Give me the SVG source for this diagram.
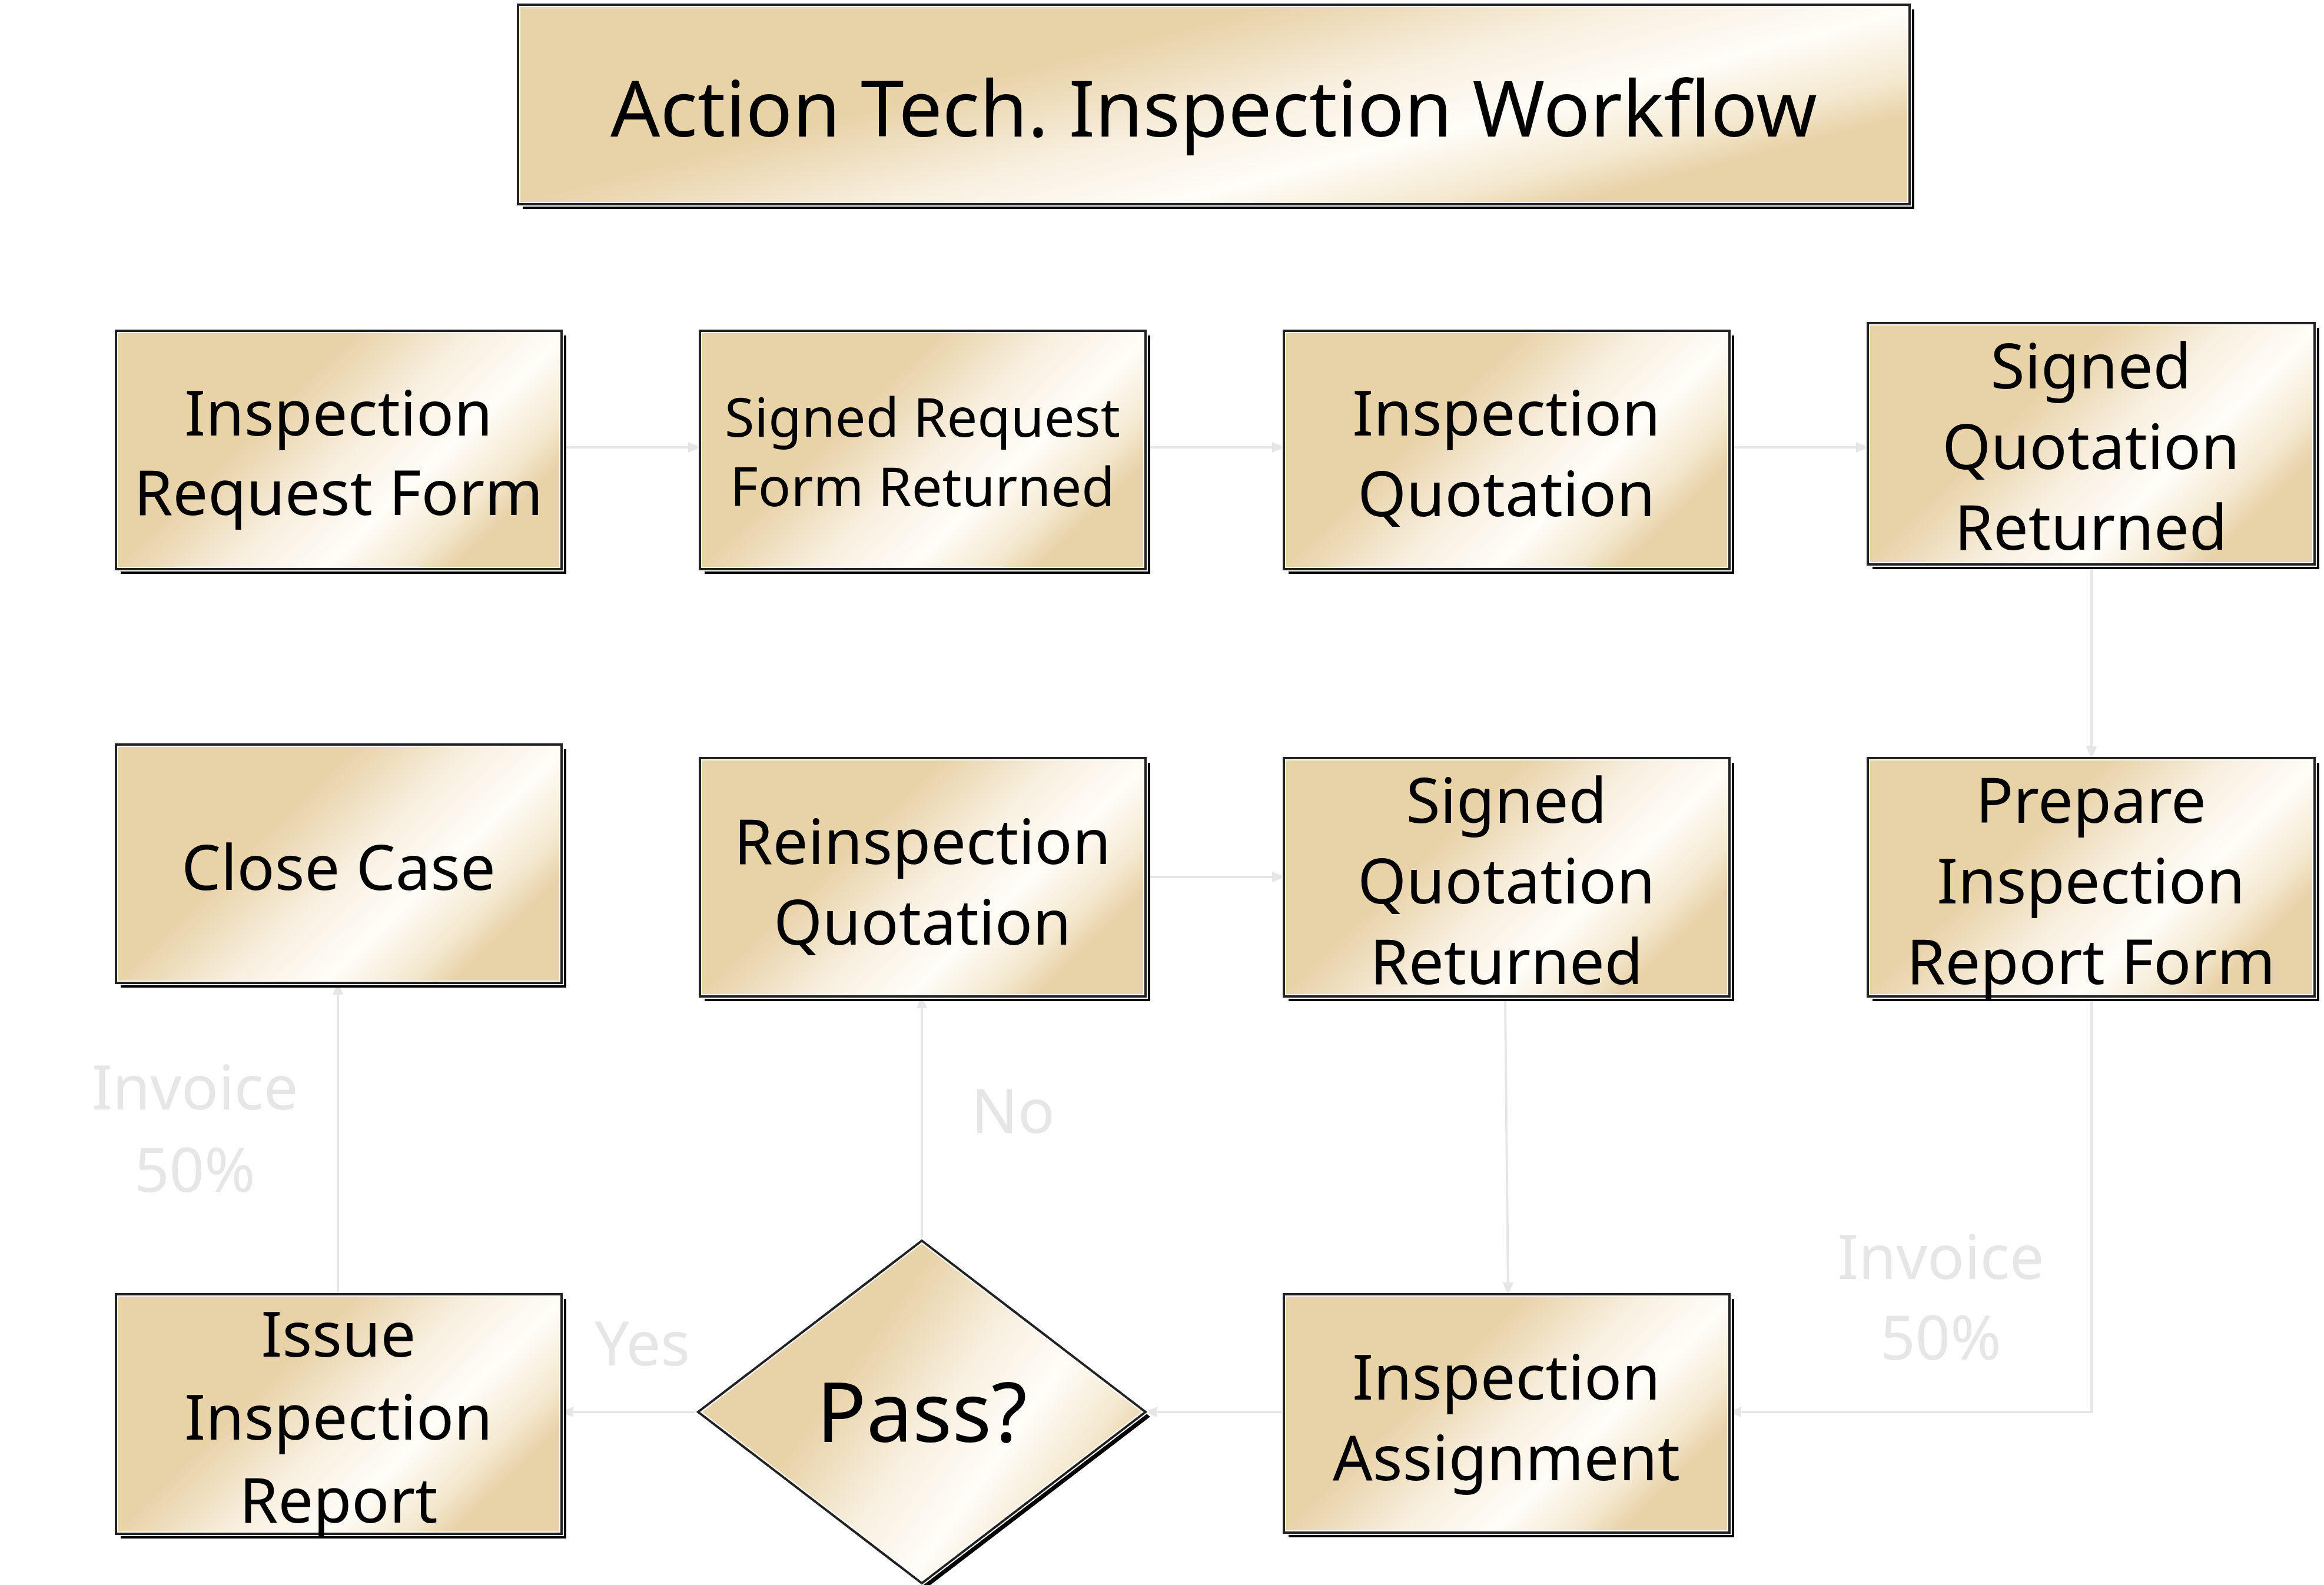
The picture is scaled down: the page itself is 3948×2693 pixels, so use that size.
<svg xmlns="http://www.w3.org/2000/svg" width="3948" height="2693" viewBox="0 0 3948 2693">
<defs>
<linearGradient id="g" x1="0" y1="0" x2="1" y2="0.55">
<stop offset="0" stop-color="#e8d3a9"/><stop offset="0.42" stop-color="#e8d3a9"/><stop offset="0.62" stop-color="#f8efdf"/><stop offset="0.78" stop-color="#fffdf8"/><stop offset="0.92" stop-color="#f4e8cf"/><stop offset="1" stop-color="#e8d3a9"/>
</linearGradient>
<marker id="ab" markerWidth="22" markerHeight="22" refX="20" refY="11" orient="auto" markerUnits="userSpaceOnUse" viewBox="0 0 22 22"><path d="M0,2 L22,11 L0,20 z" fill="#e6e6e6"/></marker>
</defs>
<style>
.sh{fill:#000}
.bx{fill:url(#g);stroke:#fff;stroke-width:8}
.ol{fill:none;stroke:#222;stroke-width:4}
.t{font-family:"Noto Sans",sans-serif;font-size:106px;fill:#000;text-anchor:middle}
.l{font-family:"Noto Sans",sans-serif;font-size:104px;fill:#e6e6e6;text-anchor:middle}
.c{fill:none;stroke:#e6e6e6;stroke-width:4;marker-end:url(#ab)}
</style>
<rect width="3948" height="2693" fill="#fff"/>
<g id="connectors">
<path class="c" d="M954,760 H1189"/>
<path class="c" d="M1946,760 H2181"/>
<path class="c" d="M2938,760 H3173"/>
<path class="c" d="M3553,959 V1288"/>
<path class="c" d="M3553,1693 V2399 H2938"/>
<path class="c" d="M2557,1693 L2562,2199"/>
<path class="c" d="M2181,2399 H1946"/>
<path class="c" d="M1189,2399 H954"/>
<path class="c" d="M1566,2108 V1693"/>
<path class="c" d="M1946,1490 H2181"/>
<path class="c" d="M574,2199 V1670"/>
</g>
<g id="labels">
<text class="l" x="331" y="1885">Invoice</text><text class="l" x="331" y="2025">50%</text>
<text class="l" x="1721" y="1925">No</text>
<text class="l" x="1091" y="2320">Yes</text>
<text class="l" x="3297" y="2173">Invoice</text><text class="l" x="3297" y="2310">50%</text>
</g>
<g id="title">
<rect class="sh" x="888" y="16" width="2364" height="339"/>
<rect class="bx" x="880" y="8" width="2364" height="339"/><rect class="ol" x="880" y="8" width="2364" height="339"/>
<text class="t" x="2062" y="232" style="font-size:132px">Action Tech. Inspection Workflow</text>
</g>
<g id="n1"><rect class="sh" x="205" y="570" width="757" height="405"/><rect class="bx" x="197" y="562" width="757" height="405"/><rect class="ol" x="197" y="562" width="757" height="405"/>
<text class="t" x="575" y="740">Inspection</text><text class="t" x="575" y="875">Request Form</text></g>
<g id="n2"><rect class="sh" x="1197" y="570" width="757" height="405"/><rect class="bx" x="1189" y="562" width="757" height="405"/><rect class="ol" x="1189" y="562" width="757" height="405"/>
<text class="t" x="1567" y="742" style="font-size:92px">Signed Request</text><text class="t" x="1567" y="860" style="font-size:92px">Form Returned</text></g>
<g id="n3"><rect class="sh" x="2189" y="570" width="757" height="405"/><rect class="bx" x="2181" y="562" width="757" height="405"/><rect class="ol" x="2181" y="562" width="757" height="405"/>
<text class="t" x="2559" y="740">Inspection</text><text class="t" x="2559" y="877">Quotation</text></g>
<g id="n4"><rect class="sh" x="3181" y="557" width="759" height="410"/><rect class="bx" x="3173" y="549" width="759" height="410"/><rect class="ol" x="3173" y="549" width="759" height="410"/>
<text class="t" x="3552" y="660">Signed</text><text class="t" x="3552" y="797">Quotation</text><text class="t" x="3552" y="934">Returned</text></g>
<g id="n5"><rect class="sh" x="205" y="1273" width="757" height="405"/><rect class="bx" x="197" y="1265" width="757" height="405"/><rect class="ol" x="197" y="1265" width="757" height="405"/>
<text class="t" x="575" y="1512">Close Case</text></g>
<g id="n6"><rect class="sh" x="1197" y="1296" width="757" height="405"/><rect class="bx" x="1189" y="1288" width="757" height="405"/><rect class="ol" x="1189" y="1288" width="757" height="405"/>
<text class="t" x="1567" y="1468">Reinspection</text><text class="t" x="1567" y="1605">Quotation</text></g>
<g id="n7"><rect class="sh" x="2189" y="1296" width="757" height="405"/><rect class="bx" x="2181" y="1288" width="757" height="405"/><rect class="ol" x="2181" y="1288" width="757" height="405"/>
<text class="t" x="2559" y="1398">Signed</text><text class="t" x="2559" y="1535">Quotation</text><text class="t" x="2559" y="1672">Returned</text></g>
<g id="n8"><rect class="sh" x="3181" y="1296" width="759" height="405"/><rect class="bx" x="3173" y="1288" width="759" height="405"/><rect class="ol" x="3173" y="1288" width="759" height="405"/>
<text class="t" x="3552" y="1398">Prepare</text><text class="t" x="3552" y="1535">Inspection</text><text class="t" x="3552" y="1672">Report Form</text></g>
<g id="n9"><rect class="sh" x="205" y="2207" width="757" height="407"/><rect class="bx" x="197" y="2199" width="757" height="407"/><rect class="ol" x="197" y="2199" width="757" height="407"/>
<text class="t" x="575" y="2305">Issue</text><text class="t" x="575" y="2446">Inspection</text><text class="t" x="575" y="2587">Report</text></g>
<g id="n10"><path class="sh" d="M1574,2116 L1954,2407 L1574,2698 L1194,2407 z"/><path class="bx" d="M1566,2108 L1946,2399 L1566,2690 L1186,2399 z"/><path class="ol" d="M1566,2108 L1946,2399 L1566,2690 L1186,2399 z"/>
<text class="t" x="1566" y="2450" style="font-size:140px">Pass?</text></g>
<g id="n11"><rect class="sh" x="2189" y="2207" width="757" height="405"/><rect class="bx" x="2181" y="2199" width="757" height="405"/><rect class="ol" x="2181" y="2199" width="757" height="405"/>
<text class="t" x="2559" y="2378">Inspection</text><text class="t" x="2559" y="2515">Assignment</text></g>
</svg>
